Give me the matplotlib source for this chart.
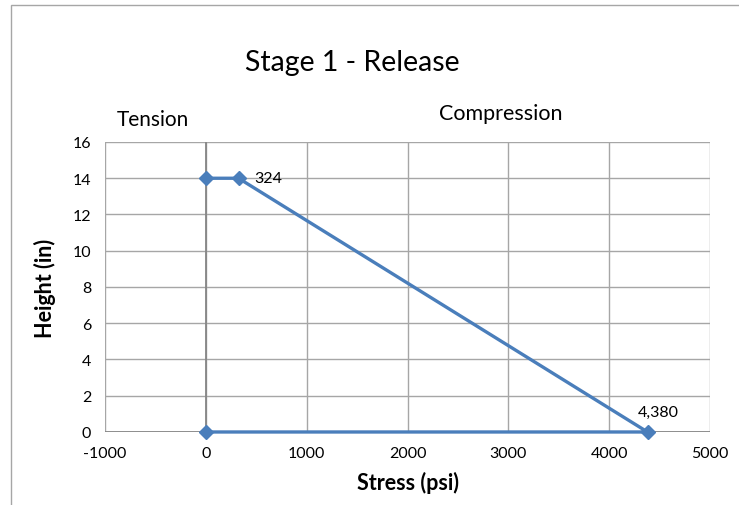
import matplotlib
matplotlib.use("Agg")
from matplotlib import pyplot as plt
from matplotlib.patches import Rectangle

plt.rcParams['font.family'] = ['Lato', 'DejaVu Sans']

# Stress profile at release (psi vs height in inches)
stress = [0, 324, 4380, 0]
height = [14, 14, 0, 0]
label_324 = "324"
label_4380 = "4,380"

xticks = [-1000, 0, 1000, 2000, 3000, 4000, 5000]
yticks = [0, 2, 4, 6, 8, 10, 12, 14, 16]

fig = plt.figure(figsize=(7.39, 5.06), dpi=100)
ax = fig.add_axes([0.1421, 0.1443, 0.8187, 0.5731])

# chart area border (only top and left show)
fig.patches.append(Rectangle((11 / 739, -0.1), 1.2, (506 - 6) / 506 + 0.1,
                             transform=fig.transFigure, fill=False,
                             edgecolor='#a6a6a6', linewidth=1.0))

ax.set_xlim(-1000, 5000)
ax.set_ylim(0, 16)
ax.set_xticks(xticks)
ax.set_yticks(yticks)
ax.set_xticklabels([str(v) if v >= 0 else "-" + str(-v) for v in xticks])
ax.grid(True, color='#a6a6a6', linewidth=1.0)
ax.set_axisbelow(True)
for s in ax.spines.values():
    s.set_visible(False)
ax.axvline(0, color='#868686', linewidth=1.3, zorder=1)
ax.axhline(0, color='#868686', linewidth=1.3, zorder=1)
ax.tick_params(length=0, labelsize=11.5)
ax.tick_params(axis='x', pad=10)
ax.tick_params(axis='y', pad=10)

ax.plot(stress, height, color='#4a7ebb', linewidth=2.4, marker='D',
        markersize=7, zorder=3, clip_on=False)

ax.annotate(label_324, (stress[1], height[1]), xytext=(11, 0),
            textcoords='offset points', va='center', ha='left', fontsize=11.5)
ax.annotate(label_4380, (stress[2], height[2]), xytext=(8, 14.5),
            textcoords='offset points', va='center', ha='center', fontsize=11.5)

ax.set_xlabel("Stress (psi)", fontsize=15.5, fontweight='bold', labelpad=8)
ax.set_ylabel("Height (in)", fontsize=15.5, fontweight='bold', labelpad=12)

fig.text(352 / 739, 1 - 63 / 506, "Stage 1 - Release", fontsize=20.5,
         ha='center', va='center')
fig.text(153 / 739, 1 - 120 / 506, "Tension", fontsize=15,
         ha='center', va='center')
fig.text(501 / 739, 1 - 114 / 506, "Compression", fontsize=15.5,
         ha='center', va='center')

fig.savefig("out.png", dpi=100)
